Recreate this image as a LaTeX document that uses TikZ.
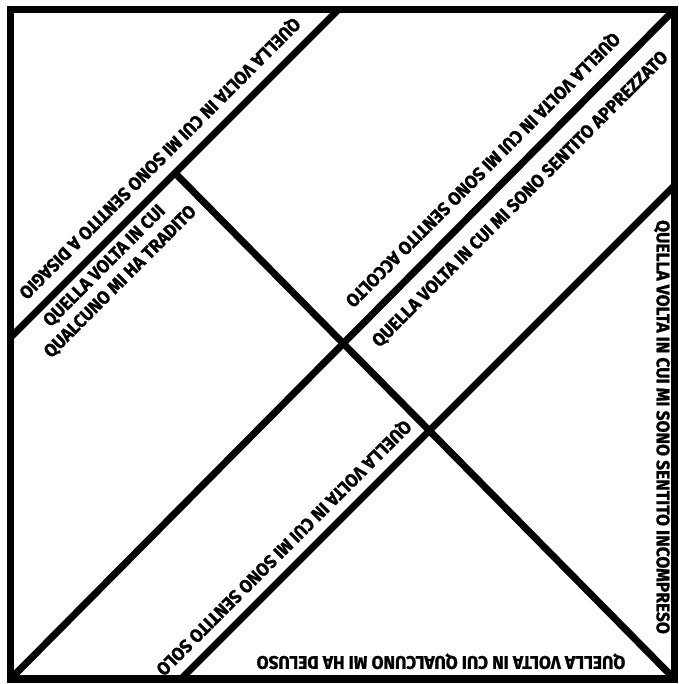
\documentclass[tikz,border=0pt]{standalone}
\usepackage{fontspec}
\setmainfont{Fira Sans}
\newfontfamily\heavyfont{Fira Sans}[UprightFont={* Bold}, FakeBold=1.2]
\usepackage{graphicx}
\tikzset{
  bar/.style={line width=5pt},
  lbl/.style={font=\heavyfont\fontsize{13}{16}\selectfont, inner sep=0pt,
    text height=9pt, text depth=0pt},
}
\newcommand{\narrow}[1]{\scalebox{0.95}[1]{#1}}

\begin{document}
\begin{tikzpicture}[x=0.025cm, y=-0.025cm]
                \useasboundingbox (0,0) rectangle (678,684);
                % frame corners and ends of the cuts
                \coordinate (nw) at (10.5,9.5);
                \coordinate (ne) at (674.5,9.5);
                \coordinate (sw) at (10.5,679);
                \coordinate (se) at (674.5,679);
                \coordinate (cutA) at (338.5,9.5);
                \coordinate (cutB) at (10.5,337.5);
                \coordinate (fork) at (176,174);
                \coordinate (cutC) at (674.5,185.5);
                \coordinate (cutD) at (181,679);
                \draw[bar] (cutA) -- (cutB);
                \draw[bar] (ne) -- (sw);
                \draw[bar] (fork) -- (se);
                \draw[bar] (cutC) -- (cutD);
                \draw[bar] (nw) rectangle (se);
                % texts
                \node[lbl, rotate=225] (disagio) at (160,158.5) {\narrow{QUELLA VOLTA IN CUI MI SONO SENTITO A DISAGIO}};
                \node[lbl, rotate=45, align=center] (tradito) at (119.75,281.25) {\narrow{QUELLA VOLTA IN CUI}\\\narrow{QUALCUNO MI HA TRADITO}};
                \node[lbl, rotate=225] (accolto) at (483,170) {\narrow{QUELLA VOLTA IN CUI MI SONO SENTITO ACCOLTO}};
                \node[lbl, rotate=45] (apprezzato) at (519.75,198.75) {\narrow{QUELLA VOLTA IN CUI MI SONO SENTITO APPREZZATO}};
                \node[lbl, rotate=-90] (incompreso) at (663,427) {\narrow{QUELLA VOLTA IN CUI MI SONO SENTITO INCOMPRESO}};
                \node[lbl, rotate=225] (solo) at (284,548) {\narrow{QUELLA VOLTA IN CUI MI SONO SENTITO SOLO}};
                \node[lbl, rotate=180] (deluso) at (441,662.5) {\narrow{QUELLA VOLTA IN CUI QUALCUNO MI HA DELUSO}};
            \end{tikzpicture}
\end{document}
